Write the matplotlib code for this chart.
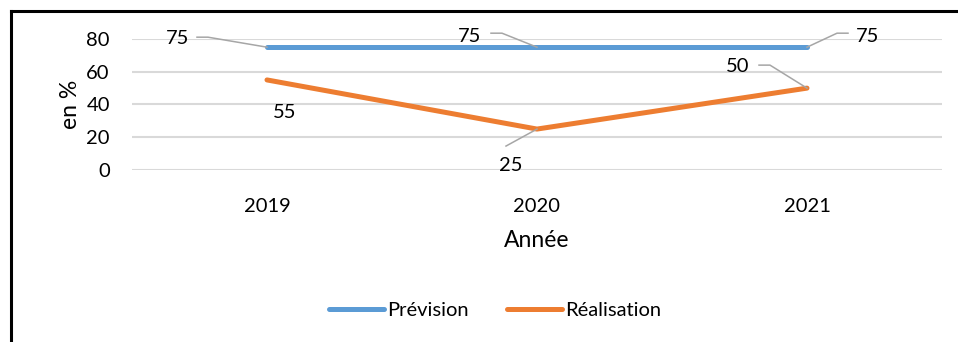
import numpy as np
import matplotlib
matplotlib.use('Agg')
import matplotlib.pyplot as plt
from matplotlib.lines import Line2D
from matplotlib.transforms import IdentityTransform

plt.rcParams['font.family'] = ['Lato', 'DejaVu Sans']

# données
annees = ['2019', '2020', '2021']
prevision = [75, 75, 75]
realisation = [55, 25, 50]

# position des étiquettes (décalage en pixels) et lignes de rappel
off_prev = [(-89, 9), (-67, 11), (61, 11)]
lead_prev = [[(-59, 10), (-70, 10)], [(-35, 14), (-46, 14)], [(30, 14), (41, 14)]]
off_real = [(18, -33), (-26, -36), (-69, 22)]
lead_real = [None, [(-31, -17)], [(-37, 23), (-48, 23)]]

bleu = '#5B9BD5'
orange = '#ED7D31'
gris = '#A6A6A6'

fig = plt.figure(figsize=(9.58, 3.42), dpi=100)
W, H = 958, 342
ax = fig.add_axes([132 / W, 1 - 170 / H, 810 / W, 131 / H])

x = np.arange(len(annees)) + 0.5
ax.plot(x, prevision, color=bleu, lw=3.6, solid_capstyle='round', label='Prévision', zorder=3)
ax.plot(x, realisation, color=orange, lw=3.6, solid_capstyle='round', label='Réalisation', zorder=3)

ax.set_xlim(0, 3)
ax.set_ylim(0, 80)
ax.set_yticks(np.arange(0, 81, 20))
ax.set_xticks(x)
ax.set_xticklabels(annees)
ax.grid(axis='y', color='#D9D9D9', lw=1.5)
ax.set_axisbelow(True)
for s in ax.spines.values():
    s.set_visible(False)
ax.tick_params(axis='both', length=0, labelsize=14.5, colors='black')
ax.tick_params(axis='y', pad=16)
ax.tick_params(axis='x', pad=20)
ax.set_ylabel('en %', fontsize=16.5, labelpad=4)
ax.set_xlabel('Année', fontsize=16.5, labelpad=11)

fig.canvas.draw()


def etiquettes(vals, offs, leads):
    for xi, v, o, ld in zip(x, vals, offs, leads):
        px, py = ax.transData.transform((xi, v))
        ax.text(px + o[0], py + o[1], str(v), transform=IdentityTransform(),
                ha='center', va='center', fontsize=14.5)
        if ld:
            pts = [(px, py)] + [(px + a, py + b) for a, b in ld]
            xs, ys = zip(*pts)
            fig.add_artist(Line2D(xs, ys, color=gris, lw=1.1, transform=IdentityTransform()))


etiquettes(prevision, off_prev, lead_prev)
etiquettes(realisation, off_real, lead_real)

fig.legend(loc='center', bbox_to_anchor=(495 / W, 1 - 310 / H), ncol=2, frameon=False,
           fontsize=14.5, handlelength=2.75, handletextpad=0.15, columnspacing=1.9)

# cadre
fig.add_artist(Line2D([11 / W, 11 / W], [0, 1 - 11 / H], color='black', lw=2.2, transform=fig.transFigure))
fig.add_artist(Line2D([11 / W, 1], [1 - 11 / H, 1 - 11 / H], color='black', lw=2.2, transform=fig.transFigure))

fig.savefig('out.png', dpi=100)
